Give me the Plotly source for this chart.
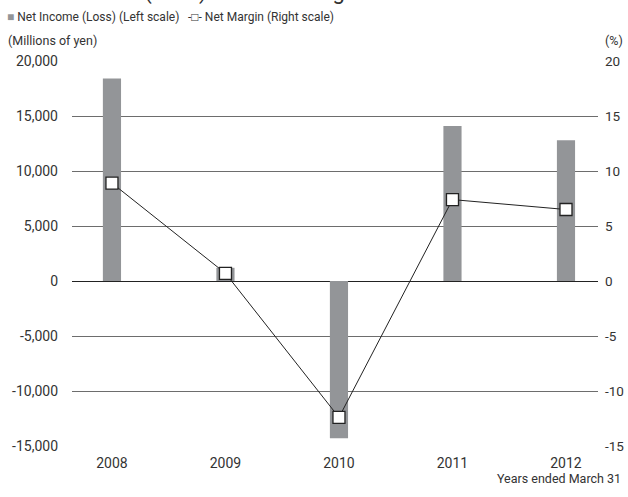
import plotly.graph_objects as go

years = ["2008", "2009", "2010", "2011", "2012"]
net_income = [18400, 1200, -14300, 14100, 12800]
net_margin = [8.9, 0.7, -12.4, 7.4, 6.5]
left_ticks = [-15000, -10000, -5000, 0, 5000, 10000, 15000, 20000]
left_labels = ["-15,000", "-10,000", "-5,000", "0", "5,000", "10,000", "15,000", "20,000"]
right_ticks = [-15, -10, -5, 0, 5, 10, 15, 20]
right_labels = ["-15", "-10", "-5", "0", "5", "10", "15", "20"]

FONT = "Roboto, Arial, sans-serif"
TXT = "#333333"

L, R, T, B = 72, 30, 61, 51
W, H = 628, 497
ph = H - T - B

def py(pix):
    return (H - B - pix) / ph

def px(pix):
    return (pix - L) / (W - L - R)

fig = go.Figure()
fig.add_trace(go.Bar(
    x=list(range(len(years))), y=net_income, width=0.16,
    marker=dict(color="#939598", line=dict(width=0)),
    name="Net Income (Loss) (Left scale)", yaxis="y",
))
fig.add_trace(go.Scatter(
    x=list(range(len(years))), y=net_margin, mode="lines+markers",
    line=dict(color="#222222", width=1),
    marker=dict(symbol="square", size=12, color="white", line=dict(color="#222222", width=1.3)),
    name="Net Margin (Right scale)", yaxis="y2",
))

fig.update_layout(
    width=W, height=H,
    margin=dict(l=L, r=R, t=T, b=B, autoexpand=False),
    paper_bgcolor="white", plot_bgcolor="white",
    font=dict(family=FONT, size=14, color=TXT),
    showlegend=False,
    xaxis=dict(range=[-0.352, 4.282], tickvals=list(range(len(years))), ticktext=years,
               showgrid=False, zeroline=False, showline=False, ticks="",
               ticklabelstandoff=7, automargin=False,
               tickfont=dict(size=14, color=TXT)),
    yaxis=dict(range=[-15000, 20000], tickvals=left_ticks, ticktext=left_labels,
               showgrid=True, gridcolor="#6d6d6d", gridwidth=1,
               zeroline=True, zerolinecolor="#222222", zerolinewidth=1,
               showline=False, ticks="", ticklen=0, ticklabelstandoff=13, automargin=False,
               tickfont=dict(size=14, color=TXT)),
    yaxis2=dict(range=[-15, 20], tickvals=right_ticks, ticktext=right_labels,
                overlaying="y", side="right",
                showgrid=False, zeroline=False, showline=False, ticks="",
                ticklabelstandoff=6, automargin=False,
                tickfont=dict(size=13.5, color=TXT)),
    annotations=[
        dict(text="<span style='color:#939598'>■</span> Net Income (Loss) (Left scale)",
             xref="paper", yref="paper", x=px(5), y=py(17),
             xanchor="left", yanchor="middle", showarrow=False, font=dict(size=12, color=TXT)),
        dict(text="-□- Net Margin (Right scale)",
             xref="paper", yref="paper", x=px(186), y=py(17),
             xanchor="left", yanchor="middle", showarrow=False, font=dict(size=12, color=TXT)),
        dict(text="(Millions of yen)", xref="paper", yref="paper", x=px(6), y=py(40),
             xanchor="left", yanchor="middle", showarrow=False, font=dict(size=12.5, color=TXT)),
        dict(text="(%)", xref="paper", yref="paper", x=px(625), y=py(40),
             xanchor="right", yanchor="middle", showarrow=False, font=dict(size=12.5, color=TXT)),
        dict(text="Years ended March 31", xref="paper", yref="paper", x=px(623), y=py(479),
             xanchor="right", yanchor="middle", showarrow=False, font=dict(size=12.5, color=TXT)),
        dict(text="■ Net Income (Loss) and Net Margin", xref="paper", yref="paper", x=px(5), y=py(7),
             xanchor="left", yanchor="bottom", showarrow=False, font=dict(size=22, color=TXT)),
    ],
)

fig.write_html("out.html", config={"displayModeBar": False},
               post_script="document.body.style.margin='0';document.body.style.overflow='hidden';")
